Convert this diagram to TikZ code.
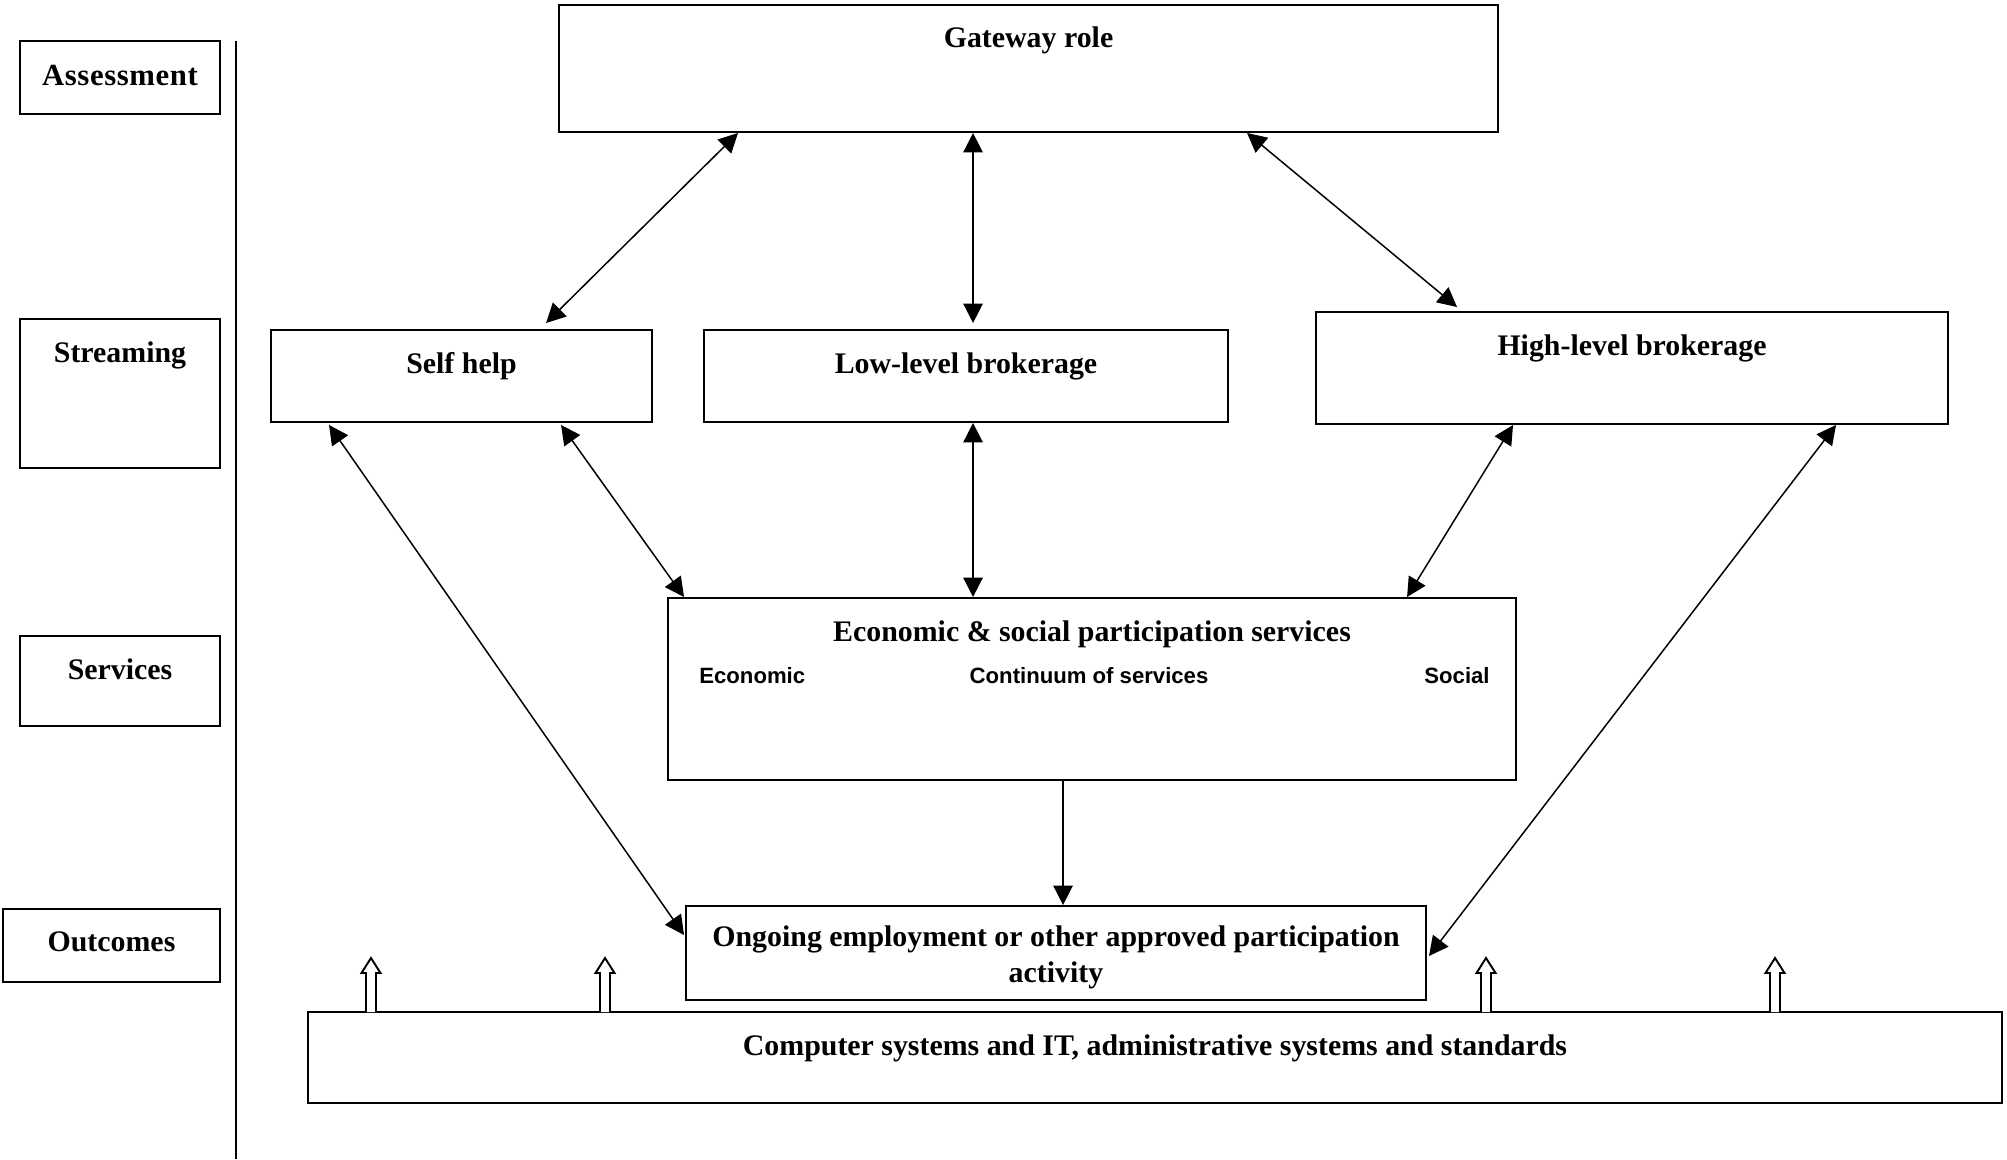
\documentclass[tikz,border=0pt]{standalone}
\usepackage{fontspec}
\setmainfont{Liberation Serif}
\newfontfamily\arialfont{Liberation Sans}
\usetikzlibrary{arrows.meta,calc,fit}

\begin{document}
\begin{tikzpicture}[x=0.02cm,y=-0.02cm,>={Triangle[length=11pt,width=11pt]},
	box/.style={draw,line width=1.1pt,inner sep=0pt},
	title/.style={anchor=north,inner sep=0pt,yshift=-0.46cm,align=center,font=\fontsize{17}{20.5}\selectfont\bfseries},
	sub/.style={inner sep=0pt,font=\fontsize{12.6}{15}\selectfont\arialfont\bfseries},
	link/.style={<->,line width=0.85pt}]

\useasboundingbox (0,0) rectangle (2007,1159);

\node[box,fit={(20,41) (220,114)},label={[title,yshift=-0.03cm,font=\fontsize{17.5}{21}\selectfont\bfseries\addfontfeatures{LetterSpace=2}]north:Assessment}] (assess) {};
\node[box,fit={(20,319) (220,468)},label={[title]north:Streaming}] (stream) {};
\node[box,fit={(20,636) (220,726)},label={[title]north:Services}] (servlbl) {};
\node[box,fit={(3,909) (220,982)},label={[title]north:Outcomes}] (outlbl) {};

\draw[line width=1.1pt] (236,41)--(236,1159);

\node[box,fit={(559,5) (1498,132)},label={[title,yshift=0.015cm]north:Gateway role}] (gate) {};
\node[box,fit={(271,330) (652,422)},label={[title]north:Self help}] (self) {};
\node[box,fit={(704,330) (1228,422)},label={[title]north:Low-level brokerage}] (low) {};
\node[box,fit={(1316,312) (1948,424)},label={[title]north:High-level brokerage}] (high) {};
\node[box,fit={(668,598) (1516,780)},label={[title]north:{Economic \& social participation services}}] (serv) {};
\node[box,fit={(686,906) (1426,1000)},label={[title,yshift=0.06cm]north:{Ongoing employment or other approved participation\\activity}}] (outc) {};
\node[box,fit={(308,1012) (2002,1103)},label={[title]north:{Computer systems and IT, administrative systems and standards}}] (comp) {};

\node[sub,anchor=west] (econ) at ($(serv.north west)+(32,79)$) {Economic};
\node[sub] (cont) at ($(serv.north west)+(422,79)$) {Continuum of services};
\node[sub,anchor=east] (soc) at ($(serv.north east)+(-27,79)$) {Social};

\draw[link] ($(gate.south west)+(180,0)$)--($(self.north west)+(276,-6)$);
\draw[link] ($(gate.south west)+(415,0)$)--($(low.north west)+(270,-6)$);
\draw[link] ($(gate.south west)+(689,0)$)--($(high.north west)+(142,-4)$);
\draw[link] ($(self.south west)+(59,2)$)--($(outc.north west)+(-1,30)$);
\draw[link] ($(self.south west)+(291,2)$)--($(serv.north west)+(17,0)$);
\draw[link] ($(low.south west)+(270,0)$)--($(serv.north west)+(306,0)$);
\draw[link] ($(high.south west)+(198,0)$)--($(serv.north west)+(740,0)$);
\draw[link] ($(high.south west)+(521,0)$)--($(outc.north east)+(2,51)$);
\draw[->,line width=0.85pt] ($(serv.south west)+(396,0)$)--($(outc.north west)+(378,0)$);

\foreach \x in {371,605,1486,1775}{
	\draw[line width=1.1pt,fill=white] (\x-5,1012)--(\x-5,973)--(\x-9.5,973)--(\x,958)--(\x+9.5,973)--(\x+5,973)--(\x+5,1012);
}

\end{tikzpicture}
\end{document}
